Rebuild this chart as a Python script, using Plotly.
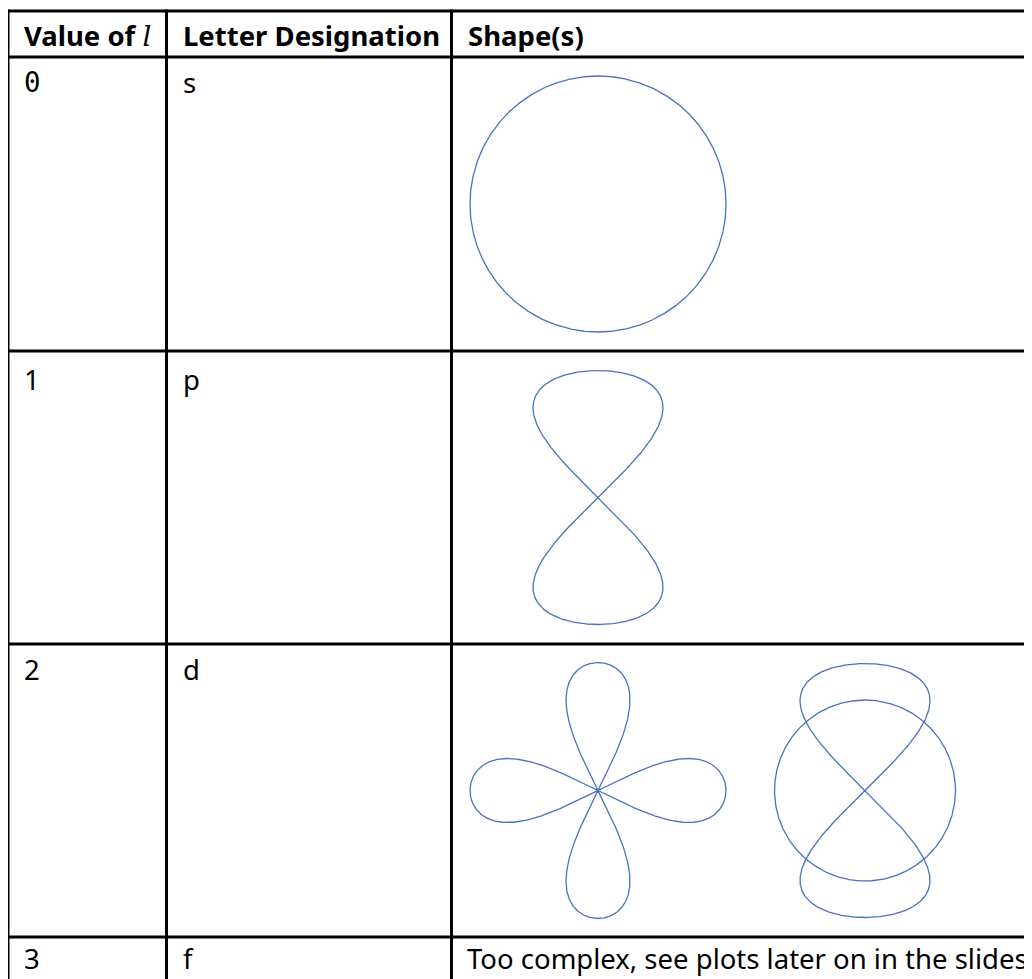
import numpy as np
import plotly.graph_objects as go

# ---------------- data ----------------
headers = ["Value of <span style=\"font-family:'DejaVu Serif';font-weight:normal\"><i>l</i></span>",
           "Letter Designation", "Shape(s)"]
l_values = ["0", "1", "2", "3"]
letters = ["s", "p", "d", "f"]
f_note = "Too complex, see plots later on in the slides"

# shape parameters (px)
s_radius = [128]                 # s : sphere outline
p_eight = [65, 127]              # p : figure-eight half width, half height
d_clover = [128, 32]             # d : lobe length, lobe half-thickness
d_z2_eight = [65, 127]           # d_z2 : figure-eight half width, half height
d_z2_ring = [90.5]               # d_z2 : torus ring radius

# ---------------- layout constants ----------------
W, H = 1032, 979
OFF = 8  # page body margin
col_edges = [8, 166.5, 451.5, 1045]
row_edges = [11, 57, 351, 644, 937, 1010]
row_text_off = [25, 28, 25, 21.5]
LINE = "#4A72C0"
FONT = "Noto Sans"
FS = 27.5

fig = go.Figure()
t = np.linspace(0, 2 * np.pi, 1441)


def add_curve(x, y):
    fig.add_trace(go.Scatter(x=x, y=y, mode="lines",
                             line=dict(color=LINE, width=1.3),
                             hoverinfo="skip", showlegend=False))


def row_center(i):
    return (row_edges[i + 1] + row_edges[i + 2]) / 2


c1x = col_edges[2] + 146.5
c2x = col_edges[2] + 413.5

# s
cy = row_center(0)
add_curve(c1x + s_radius[0] * np.cos(t), cy + s_radius[0] * np.sin(t))
# p
cy = row_center(1)
add_curve(c1x + p_eight[0] * np.sin(2 * t), cy - p_eight[1] * np.sin(t))
# d clover (two crossed figure-eights)
cy = row_center(2)
add_curve(c1x + d_clover[1] * np.sin(2 * t), cy - d_clover[0] * np.sin(t))
add_curve(c1x + d_clover[0] * np.sin(t), cy + d_clover[1] * np.sin(2 * t))
# d_z2
add_curve(c2x + d_z2_eight[0] * np.sin(2 * t), cy - d_z2_eight[1] * np.sin(t))
add_curve(c2x + d_z2_ring[0] * np.cos(t), cy + d_z2_ring[0] * np.sin(t))

# ---------------- grid ----------------
shapes = []
for x in col_edges[:-1]:
    shapes.append(dict(type="line", x0=x, x1=x, y0=row_edges[0] - 1.5, y1=row_edges[-1],
                       line=dict(color="black", width=3)))
for y in row_edges[:-1]:
    shapes.append(dict(type="line", x0=col_edges[0] - 1.5, x1=col_edges[-1], y0=y, y1=y,
                       line=dict(color="black", width=3)))

# ---------------- text ----------------
ann = []
for i, h in enumerate(headers):
    ann.append(dict(x=col_edges[i] + 14, y=35, text="<b>" + h + "</b>", showarrow=False,
                    xanchor="left", yanchor="middle",
                    font=dict(family=FONT, size=FS, color="black")))
for r in range(4):
    y = row_edges[r + 1] + row_text_off[r]
    ann.append(dict(x=col_edges[0] + 14, y=y, text=l_values[r], showarrow=False,
                    xanchor="left", yanchor="middle",
                    font=dict(family="DejaVu Sans Mono" if l_values[r] == "0" else FONT,
                              size=FS, color="black")))
    ann.append(dict(x=col_edges[1] + 14, y=y, text=letters[r], showarrow=False,
                    xanchor="left", yanchor="middle",
                    font=dict(family=FONT, size=FS, color="black")))
ann.append(dict(x=col_edges[2] + 13, y=row_edges[4] + row_text_off[3], text=f_note,
                showarrow=False, xanchor="left", yanchor="middle",
                font=dict(family=FONT, size=FS, color="black")))

fig.update_layout(
    width=W - OFF, height=H - OFF, margin=dict(l=0, r=0, t=0, b=0),
    paper_bgcolor="white", plot_bgcolor="white",
    xaxis=dict(range=[OFF, W], visible=False, fixedrange=True),
    yaxis=dict(range=[H, OFF], visible=False, fixedrange=True),
    shapes=shapes, annotations=ann, showlegend=False,
)
fig.write_html("out.html")
